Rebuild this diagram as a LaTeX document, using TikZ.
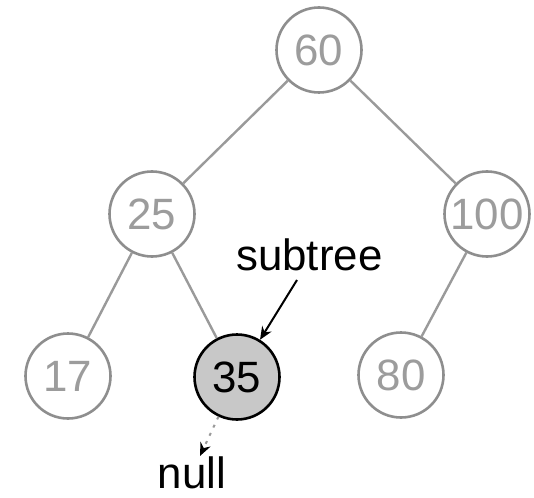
\documentclass[tikz,border=0pt]{standalone}
\usepackage{fontspec}
\setmainfont{Liberation Sans}
\usetikzlibrary{arrows.meta}
\definecolor{ringgray}{HTML}{8E8E8E}
\definecolor{edgegray}{HTML}{9A9A9A}
\definecolor{digitgray}{HTML}{9C9C9C}
\definecolor{hilite}{HTML}{C8C8C8}
\begin{document}
\begin{tikzpicture}[x=1bp,y=-1bp,
  treenode/.style={circle, draw=ringgray, line width=2.6bp, minimum size=85bp, inner sep=0pt,
    fill=white, text=digitgray, font=\fontsize{44}{48}\selectfont},
  marked/.style={treenode, draw=black, fill=hilite, text=black},
  edge/.style={draw=edgegray, line width=2.4bp},
  pointer/.style={draw=black, line width=2bp, -{Stealth[length=13bp,width=11bp]}},
  nullptr/.style={draw=edgegray, line width=2bp, dash pattern=on 3bp off 6bp,
    -{Stealth[length=13bp,width=11bp,color=black,fill=black]}},
  label/.style={font=\fontsize{44}{48}\selectfont, text=black, inner sep=0pt}]
\useasboundingbox (0,0) rectangle (534,498);
\fill[white] (0,0) rectangle (534,498);

\node[treenode] (n60)  at (319,50)  {60};
\node[treenode] (n25)  at (152,214) {25};
\node[treenode] (n100) at (487,214) {100};
\node[treenode] (n17)  at (68,376)  {17};
\node[marked]   (n35)  at (237,377) {35};
\node[treenode] (n80)  at (401,375) {80};

\draw[edge] (n60) -- (n25);
\draw[edge] (n60) -- (n100);
\draw[edge] (n25) -- (n17);
\draw[edge] (n25) -- (n35);
\draw[edge] (n100) -- (n80);

\node[label, anchor=base west] (sub) at (236,270) {subtree};
\coordinate (subtail) at (297,280);
\draw[pointer] (subtail) -- (n35);

\coordinate (nulltip) at (200,456);
\draw[nullptr] (n35) -- (nulltip);
\node[label, anchor=base] (null) at (192,488) {null};
\end{tikzpicture}
\end{document}
